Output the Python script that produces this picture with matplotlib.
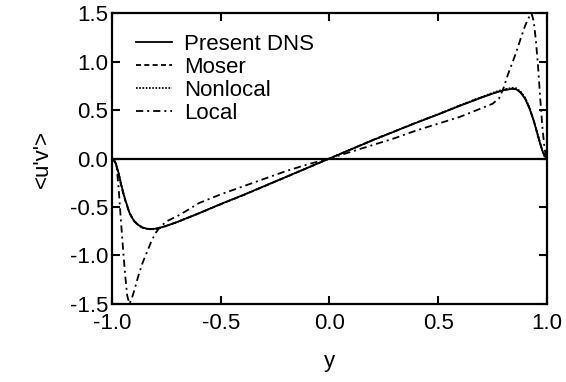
import matplotlib
matplotlib.use("Agg")
import matplotlib.pyplot as plt

# wall-normal positions and Reynolds shear stress <u'v'>
y_dns = [-1.0, -0.99, -0.98, -0.97, -0.96, -0.95, -0.94, -0.92, -0.90, -0.88,
         -0.86, -0.84, -0.82, -0.80, -0.78, -0.75, -0.70, -0.60, -0.50, -0.40,
         -0.30, -0.20, -0.10, 0.0, 0.10, 0.20, 0.30, 0.40, 0.50, 0.60,
         0.70, 0.75, 0.80, 0.84, 0.86, 0.88, 0.90, 0.92, 0.94, 0.95,
         0.96, 0.97, 0.98, 0.99, 1.0]
uv_dns = [0.0, -0.02, -0.07, -0.15, -0.25, -0.34, -0.42, -0.56, -0.64, -0.685,
          -0.712, -0.725, -0.728, -0.725, -0.715, -0.695, -0.655, -0.565, -0.47, -0.38,
          -0.285, -0.19, -0.095, 0.0, 0.095, 0.19, 0.28, 0.37, 0.455, 0.545,
          0.63, 0.67, 0.705, 0.72, 0.715, 0.68, 0.62, 0.52, 0.39, 0.31,
          0.23, 0.15, 0.08, 0.025, 0.0]
uv_moser = [0.0, -0.025, -0.08, -0.16, -0.26, -0.35, -0.43, -0.565, -0.645, -0.69,
            -0.715, -0.727, -0.73, -0.726, -0.716, -0.696, -0.656, -0.566, -0.472, -0.382,
            -0.287, -0.192, -0.096, 0.0, 0.096, 0.192, 0.282, 0.372, 0.457, 0.547,
            0.632, 0.672, 0.708, 0.723, 0.718, 0.684, 0.625, 0.525, 0.395, 0.315,
            0.235, 0.155, 0.085, 0.028, 0.0]
uv_nonlocal = [0.0, -0.02, -0.07, -0.15, -0.25, -0.34, -0.42, -0.56, -0.64, -0.685,
               -0.713, -0.727, -0.731, -0.728, -0.718, -0.698, -0.657, -0.566, -0.471, -0.381,
               -0.286, -0.191, -0.095, 0.0, 0.095, 0.191, 0.281, 0.372, 0.458, 0.549,
               0.636, 0.678, 0.714, 0.73, 0.726, 0.69, 0.63, 0.53, 0.395, 0.315,
               0.235, 0.155, 0.082, 0.026, 0.0]

y_local = [-1.0, -0.99, -0.98, -0.97, -0.96, -0.95, -0.94, -0.93, -0.92, -0.91,
           -0.90, -0.88, -0.86, -0.84, -0.82, -0.80, -0.78, -0.75, -0.70, -0.65,
           -0.60, -0.50, -0.40, -0.30, -0.20, -0.10, 0.0, 0.10, 0.20, 0.30,
           0.40, 0.50, 0.60, 0.70, 0.75, 0.78, 0.80, 0.82, 0.84, 0.86,
           0.88, 0.90, 0.92, 0.93, 0.94, 0.95, 0.96, 0.97, 0.98, 0.99, 1.0]
uv_local = [0.0, -0.02, -0.06, -0.30, -0.62, -0.92, -1.20, -1.42, -1.50, -1.45,
            -1.38, -1.22, -1.08, -0.97, -0.86, -0.77, -0.71, -0.65, -0.595, -0.53,
            -0.46, -0.37, -0.29, -0.21, -0.13, -0.06, 0.0, 0.07, 0.14, 0.21,
            0.29, 0.36, 0.43, 0.52, 0.565, 0.62, 0.72, 0.86, 0.98, 1.10,
            1.24, 1.37, 1.47, 1.50, 1.42, 1.22, 0.95, 0.62, 0.32, 0.10, 0.0]

plt.rcParams['font.family'] = ['Liberation Sans', 'DejaVu Sans']

fig = plt.figure(figsize=(5.66, 3.82), dpi=100)
ax = fig.add_axes([0.198, 0.205, 0.768, 0.76])

lw = 1.3
ax.plot(y_dns, uv_dns, color='black', lw=lw, label='Present DNS')
ax.plot(y_dns, uv_moser, color='black', lw=lw, linestyle=(0, (2.8, 1.8)), label='Moser')
ax.plot(y_dns, uv_nonlocal, color='black', lw=lw, linestyle=(0, (0.9, 0.9)), label='Nonlocal')
ax.plot(y_local, uv_local, color='black', lw=lw, linestyle=(0, (4, 2.2, 1.1, 2.2)), label='Local')
ax.axhline(0, color='black', lw=1.6)

ax.set_xlim(-1.0, 1.0)
ax.set_ylim(-1.5, 1.5)
ax.set_xticks([-1.0, -0.5, 0.0, 0.5, 1.0])
ax.set_yticks([-1.5, -1.0, -0.5, 0.0, 0.5, 1.0, 1.5])
ax.set_xticklabels(['-1.0', '-0.5', '0.0', '0.5', '1.0'])
ax.set_yticklabels(['-1.5', '-1.0', '-0.5', '0.0', '0.5', '1.0', '1.5'])
ax.tick_params(direction='in', length=6, width=1.5, top=True, right=True,
               labelsize=16)
ax.tick_params(axis='x', pad=7)
ax.tick_params(axis='y', pad=3)
for s in ax.spines.values():
    s.set_linewidth(1.6)

ax.set_xlabel('y', fontsize=16, labelpad=12)
ax.set_ylabel("<u'v'>", fontsize=16, labelpad=12)

ax.legend(loc='upper left', bbox_to_anchor=(0.055, 0.93), frameon=False,
          fontsize=16, borderaxespad=0, borderpad=0, labelspacing=0.09,
          handlelength=1.6, handletextpad=0.55)

fig.savefig('out.png', dpi=100)
